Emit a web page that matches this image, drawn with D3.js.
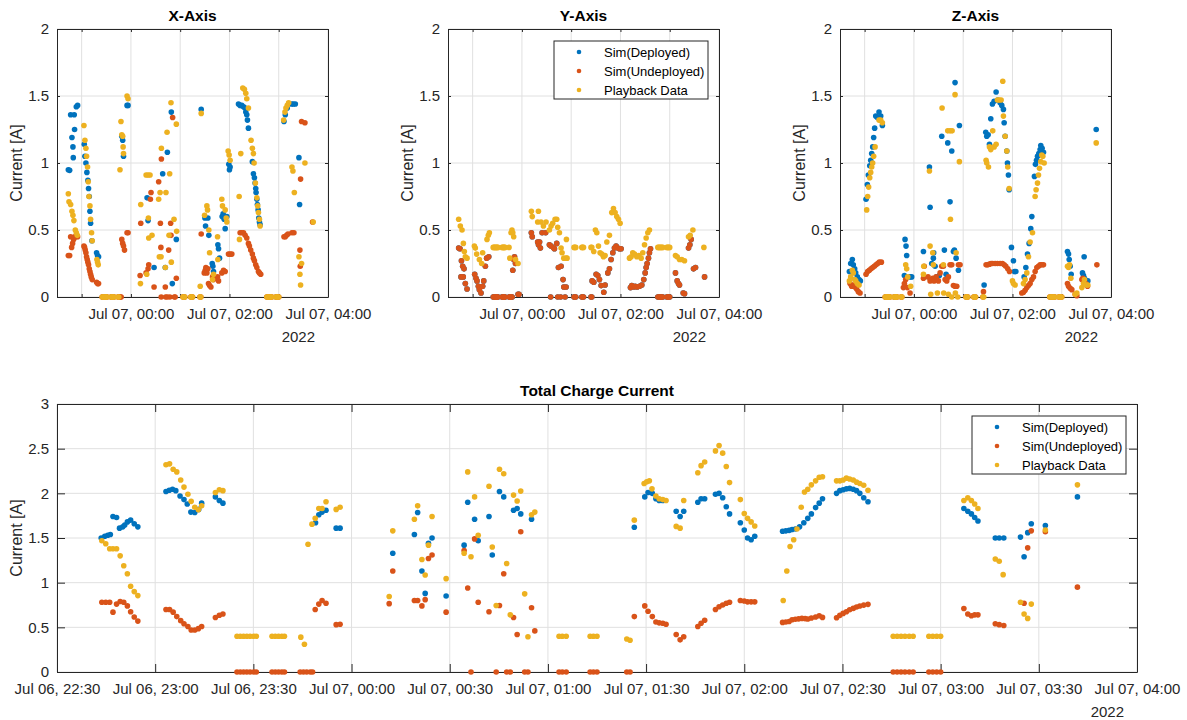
<!DOCTYPE html>
<html>
<head>
<meta charset="utf-8">
<script src="https://cdn.jsdelivr.net/npm/d3@7"></script>
<style>
  body { margin: 0; background: #fff; }
  svg { font-family: "Liberation Sans", Arial, sans-serif; }
</style>
</head>
<body>
<svg id="chart" width="1187" height="720"></svg>
<script>
// series names and MATLAB default colours
const seriesNames = ["Sim(Deployed)", "Sim(Undeployed)", "Playback Data"];
const seriesColors = ["#0072BD", "#D95319", "#EDB120"];

// every sample is [minutes after Jul 06 2022 22:30, current in A]
const xDeployed = [
  [13.8,0.95],[15.4,0.945],[16.6,1.36],[18.2,1.19],[19.4,1.12],[19.8,1.04],[21,1.36],[21.4,1.25],[23.5,1.42],[25.1,1.43],
  [33.2,1.14],[34,1.05],[35.2,1.0],[36.4,0.93],[37.6,0.87],[38.4,0.81],[39.3,0.75],[40.1,0.64],[40.9,0.55],[42.5,0.42],[48.2,0.33],[49.4,0.31],[50.6,0.3],
  [78.9,1.2],[80,1.17],[81,1.05],[85.3,1.43],[86.5,1.43],
  [109.7,0.74],[110.9,0.57],[118.2,0.22],[128.7,0.92],[131.9,0.22],[134.4,1.08],[139.2,1.38],[140.4,0.1],[145.3,0.43],
  [175.6,1.4],[180.1,0.59],[180.9,0.53],[183.7,0.59],[184.9,0.46],[189,0.25],[189.8,0.23],[190.6,0.19],[195.9,0.39],[196.7,0.36],[197.9,0.29],
  [201.1,0.6],[202.3,0.62],[203.6,0.58],[204.8,0.51],[206.8,0.6],[209.2,0.99],[210,0.95],[210.8,0.97],
  [221,1.44],[223,1.43],[225,1.43],[227.1,1.42],[229.1,1.41],[229.9,1.38],[231.1,1.36],[231.9,1.32],[233.1,1.26],[237.9,1.01],[239.2,0.92],
  [240.4,0.89],[241.2,0.85],[242,0.81],[242.4,0.78],[243.3,0.73],[244,0.69],[244.9,0.65],[245.7,0.59],[246.5,0.56],[247.3,0.54],
  [276.4,1.31],[278,1.36],[280.4,1.41],[285.7,1.44],[287.7,1.44],[290.2,1.44],[294.6,1.04],[295.4,0.69]
];
const xUndeployed = [
  [13.8,0.31],[15.4,0.31],[16.6,0.45],[17.8,0.37],[19,0.4],[20.2,0.43],[21.4,0.45],[23.1,0.45],[25.1,0.45],
  [32.8,0.38],[33.6,0.37],[34.4,0.35],[35.2,0.33],[36,0.3],[36.8,0.28],[37.6,0.26],[38.4,0.24],[39.3,0.21],[40.1,0.19],[40.9,0.17],[41.7,0.15],[42.9,0.13],[48.2,0.11],[49.4,0.1],[50.6,0.1],
  [55,0],[56,0],[57,0],[58,0],[59,0],[60.1,0],[60.9,0],[65.7,0],[66.7,0],[67.7,0],[68.7,0],[69.5,0],[74.3,0],[75.3,0],[76.3,0],[77.4,0],[78.1,0],
  [78.9,0.43],[80,0.4],[81,0.38],[82.2,0.35],[85.3,0.48],[86.5,0.48],
  [101.2,0.16],[102,0.55],[108.5,0.18],[110.9,0.21],[111.7,0.24],[113.7,0.73],[114.5,0.78],[118.2,0.075],[123.8,0.86],[125.9,0.55],[126.5,0.37],[127.1,1.03],
  [131.9,0.075],[136,0.35],[138.4,0.55],[138.8,0.46],[140.8,1.34],[145.3,0.14],[126.9,0],[132.3,0],[134.2,0],[137.4,0],[142.9,0],[143.9,0],
  [153.4,0],[154.4,0],[155.6,0],[162.9,0],[163.9,0],[165,0],[174.1,0],[175.1,0],
  [175.6,0.47],[179.3,0.18],[180.5,0.2],[181.3,0.22],[182.5,0.18],[183.7,0.21],[184.5,0.1],[185.8,0.085],[187.4,0.075],[189.4,0.15],[190.6,0.13],
  [195.5,0.15],[196.7,0.12],[200.7,0.18],[202.8,0.2],[204.8,0.19],[208.8,0.32],[210.8,0.32],[212.9,0.32],
  [223,0.48],[225,0.48],[227.1,0.48],[229.1,0.46],[231.1,0.44],[233.1,0.4],[234.3,0.38],[235.9,0.35],[237.9,0.32],[239.2,0.29],[240.4,0.27],
  [242,0.24],[243.3,0.22],[245.3,0.19],[246.5,0.18],[248.1,0.17],
  [255.5,0],[256.7,0],[257.9,0],[259.1,0],[260.4,0],[261.6,0],[266.4,0],[267.6,0],[268.8,0],[270,0],
  [276.4,0.45],[278,0.45],[279.6,0.46],[281.3,0.47],[286.1,0.48],[288.5,0.48],[295.8,0.35],[296.2,0.23],[296.6,0.88],[297.8,1.31],[301.9,1.3],[311.2,0.56]
];
const xPlayback = [
  [13.8,0.77],[14.6,0.71],[16.6,0.69],[18.2,0.64],[19.4,0.61],[20.6,0.57],[22.3,0.5],[23.5,0.48],[24.7,0.46],
  [32.8,1.28],[34,1.17],[35.2,1.11],[36,1.05],[37.2,0.97],[38,0.86],[38.9,0.75],[40.1,0.68],[40.9,0.58],[42.1,0.48],[42.9,0.42],[48.6,0.28],[49.4,0.26],[50.2,0.24],
  [55,0],[56,0],[57,0],[58,0],[59,0],[60.1,0],[60.9,0],[65.7,0],[66.7,0],[67.7,0],[68.7,0],[69.5,0],[74.3,0],[75.3,0],
  [76.7,0.95],[77.9,1.31],[78.9,1.21],[80,1.2],[80.5,1.12],[81,1.07],[85.3,1.5],[86.5,1.48],
  [101.6,0.1],[102,0.69],[108.5,0.91],[109.3,0.17],[110.9,0.91],[111.3,0.59],[111.7,0.44],[113.3,0.91],[115.7,0.46],[123.8,0.73],[124.6,0.3],
  [125.5,0.78],[126.7,0.3],[127.1,1.11],[131.9,0.22],[132.7,0.78],[134,1.23],[136.4,0.46],[137.2,0.92],[138.8,1.45],[139.2,0.26],[142.5,0.58],[145.3,1.29],[145.7,0.49],
  [153.4,0],[154.4,0],[155.6,0],[162.9,0],[163.9,0],[165,0],[174.1,0],[175.1,0],
  [174.4,0.08],[175.6,1.37],[179.7,0.61],[182.5,0.68],[183.3,0.65],[184.9,0.5],[185.8,0.33],[189.4,0.13],[190.6,0.17],[195.5,0.45],[195.9,0.28],
  [200.7,0.73],[201.5,0.68],[204.8,0.65],[206,0.59],[206.8,0.56],[208.4,1.09],[209.6,1.06],[210.8,1.02],
  [221.8,0.75],[222.2,0.43],[223.8,1.07],[226.2,1.56],[228.2,1.55],[229.9,1.52],[231.1,1.48],[233.1,1.41],[236.3,1.17],[237.9,1.11],[239.2,1.07],
  [240,1.0],[241.6,0.85],[243.3,0.74],[244.4,0.68],[245.3,0.63],[246.5,0.58],[247.3,0.53],
  [255.5,0],[256.7,0],[257.9,0],[259.1,0],[260.4,0],[261.6,0],[266.4,0],[267.6,0],[268.8,0],[270,0],
  [276,1.32],[277.6,1.38],[278.8,1.41],[280.4,1.43],[282.1,1.45],[286.1,0.97],[287.3,0.94],[289,0.78],[294.6,0.3],[295.8,0.17],[296.6,0.09],[297.8,0.25],[301.9,1.0],[312,0.56]
];

const yUndeployed = [
  [13,0.365],[14.6,0.36],[15.8,0.15],[16.4,0.27],[17.9,0.23],[18.6,0.15],[19.5,0.21],[21.1,0.1],[23.2,0.06],
  [32.5,0.17],[34.1,0.14],[35.3,0.12],[37,0.08],[38.2,0.055],[40.2,0.03],[42.2,0.08],[43.5,0.12],[45.5,0.23],[47.1,0.29],[49.6,0.3],
  [55,0],[56,0],[57,0],[58,0],[59,0],[60.1,0],[60.9,0],[65.7,0],[66.7,0],[67.7,0],[68.7,0],[69.5,0],[74.3,0],[75.3,0],[76.3,0],[77.4,0],[78.1,0],
  [78.9,0.2],[80,0.28],[81,0.3],[82.2,0.25],[85.3,0.02],[86.5,0.02],
  [101.5,0.48],[102.6,0.45],[109.2,0.41],[110.2,0.39],[111.5,0.41],[112.5,0.365],[114.6,0.48],[118.9,0.48],[123.5,0.39],[125.5,0.38],[128.8,0.365],
  [129.6,0.36],[132.4,0.4],[134.5,0.22],[137.7,0.23],[140.1,0.13],[141,0.075],[143.8,0.075],[125,0],[133.6,0],[137.2,0],[142.6,0],
  [153.4,0],[154.4,0],[155.6,0],[162.9,0],[163.9,0],[165,0],[174.1,0],[175.1,0],
  [175.5,0.12],[177.5,0.11],[180.4,0.17],[182.4,0.16],[184.4,0.13],[186.5,0.085],[189.7,0.035],[191.3,0.09],[194.6,0.18],[196.6,0.21],[198.6,0.28],
  [200.7,0.33],[202.7,0.365],[204.7,0.38],[206.8,0.365],[208.8,0.36],[210.8,0.36],
  [222.2,0.07],[223.8,0.085],[226.3,0.075],[227.9,0.08],[230.3,0.075],[233.2,0.08],[236,0.09],[238.4,0.13],[240.1,0.18],[241.3,0.22],[242.5,0.25],
  [244.1,0.29],[245.3,0.33],[246.6,0.36],
  [255.5,0],[256.7,0],[257.9,0],[259.1,0],[260.4,0],[261.6,0],[266.4,0],[267.6,0],[268.8,0],[270,0],
  [277,0.18],[279.1,0.12],[280.7,0.1],[281.9,0.09],[286.4,0.03],[288,0.025],[292.9,0.365],[294.5,0.39],[296.1,0.43],[299,0.21],[301.4,0.22],[312.4,0.15]
];
// on the Y axis both simulations give the same current, so the orange dots cover the blue ones
const yDeployed = yUndeployed;
const yPlayback = [
  [13,0.58],[15,0.53],[17.1,0.5],[18.7,0.4],[19.9,0.34],[21.1,0.3],[23.2,0.29],
  [32.1,0.38],[33.3,0.365],[34.9,0.32],[38.2,0.28],[41,0.25],[42.2,0.33],[47.5,0.43],[49.1,0.46],[50.4,0.48],
  [55,0.37],[56,0.37],[57,0.37],[58,0.37],[59,0.37],[60.1,0.37],[60.9,0.37],[65.7,0.37],[66.7,0.37],[67.7,0.37],[68.7,0.37],[69.5,0.37],[74.3,0.37],[75.3,0.29],
  [76.7,0.48],[77.9,0.5],[78.9,0.48],[80,0.45],[82.2,0.28],[85.3,0.25],
  [101.5,0.64],[102.6,0.6],[109.2,0.56],[110.1,0.64],[113.3,0.56],[116.2,0.53],[119.4,0.56],[123.5,0.5],[125.5,0.53],[127.5,0.55],[130.4,0.58],
  [132.4,0.58],[133.6,0.52],[135.7,0.48],[137.7,0.365],[138.9,0.33],[141,0.29],[143.8,0.29],[144.2,0.43],[145,0.29],
  [153.4,0.37],[154.4,0.37],[155.6,0.37],[162.9,0.37],[163.9,0.37],[165,0.37],[174.1,0.37],
  [175.1,0.37],[177.5,0.34],[179.5,0.5],[181.2,0.48],[183.2,0.38],[185.2,0.33],[187.3,0.32],[189.3,0.3],[191.3,0.31],[193.4,0.41],[196.6,0.46],
  [199.4,0.63],[201.5,0.66],[203.5,0.63],[205.5,0.6],[207.6,0.58],[209.6,0.55],
  [221,0.29],[223,0.3],[225,0.33],[227.1,0.32],[229.9,0.3],[232.4,0.31],[235.2,0.29],[237.2,0.33],[239.3,0.39],[241.3,0.44],[243.3,0.48],[245.3,0.5],
  [255.5,0.37],[256.7,0.37],[257.9,0.37],[259.1,0.37],[260.4,0.37],[261.6,0.37],[266.4,0.37],[267.6,0.37],[268.8,0.37],[270,0.37],
  [277,0.31],[279.1,0.3],[281.9,0.28],[284.7,0.28],[288,0.27],[292.9,0.45],[294.9,0.46],[298.2,0.5],[311.6,0.37]
];

const zDeployed = [
  [11.4,0.19],[13,0.25],[15,0.28],[16.2,0.24],[17.9,0.21],[19.1,0.18],[21.1,0.15],[23.2,0.13],[24.8,0.12],
  [31.7,0.73],[33.3,0.84],[34.5,0.91],[36.2,0.98],[37.4,1.02],[38.6,1.07],[39.8,1.12],[41,1.19],[42.2,1.26],[43.5,1.35],[45.5,1.34],[47.5,1.38],[49.6,1.35],[51.6,1.28],
  [78.4,0.16],[79.2,0.43],[80.4,0.38],[81.2,0.31],[85.3,0.15],[87.3,0.15],
  [101.6,0.34],[108.9,0.97],[109.7,0.67],[111.7,0.25],[113.7,0.29],[114.1,0.33],[115.8,0.23],[117.8,0.15],[121,0.16],[123.9,1.2],[127.1,0.35],
  [129.2,0.17],[131.2,1.15],[134,0.71],[136.1,1.09],[138.1,0.34],[139.3,0.35],[140.1,1.6],[141.4,0.29],[144.2,0.2],[145.4,1.28],
  [175.5,0.09],
  [177.5,1.23],[178.7,1.2],[180.4,1.21],[182,1.14],[183.6,1.33],[185.6,1.44],[187.7,1.46],[190.1,1.53],[192.1,1.47],[195,1.45],[197,1.43],
  [199,1.4],[199.9,1.3],[201.1,1.2],[203.1,1.09],[203.9,1.0],[205.1,0.91],[206,0.8],[208.8,0.37],[211.2,0.27],[212.4,0.19],[214.1,0.19],
  [224.2,0.15],[226.3,0.22],[228.3,0.32],[230.3,0.4],[232.3,0.51],[233.6,0.6],[236.8,0.9],[238,0.99],[239.3,1.02],[240.5,1.05],[242.1,1.07],
  [243.7,1.1],[244.5,1.13],[246.1,1.11],[247.8,1.08],
  [277,0.34],[278.3,0.32],[279.1,0.28],[280.3,0.23],[281.5,0.17],[295.3,0.18],[296.5,0.16],[297.3,0.3],[297.7,0.14],[299.8,0.12],[301.8,0.12],[312,1.25]
];
const zUndeployed = [
  [12.2,0.1],[14.2,0.08],[16.2,0.09],[18.3,0.075],[20.3,0.06],[22.3,0.04],[24.4,0.03],
  [31.7,0.17],[33.7,0.19],[35.7,0.2],[37.8,0.21],[39.8,0.22],[41.8,0.23],[43.9,0.24],[45.9,0.25],[47.9,0.26],[50.4,0.26],
  [55,0],[56,0],[57,0],[58,0],[59,0],[60.1,0],[60.9,0],[65.7,0],[66.7,0],[67.7,0],[68.7,0],[69.5,0],[74.3,0],[75.3,0],
  [77.2,0.07],[78.4,0.1],[80,0.13],[82.1,0.07],[85.3,0.03],
  [101.6,0.14],[102.6,0.23],[107.2,0.15],[109.7,0.12],[112.9,0.14],[114.5,0.12],[117,0.15],[119.8,0.12],[121.9,0.18],[123.9,0.23],[125.9,0.23],
  [128,0.13],[130,0.12],[132,0.15],[134,0.24],[136.1,0.24],[138.1,0.085],[140.1,0.08],[142.2,0.08],[144.2,0.24],[146.2,0.24],
  [153.4,0],[154.4,0],[155.6,0],[162.9,0],[163.9,0],[165,0],[174.1,0],[174.7,0.04],
  [177.9,0.24],[180,0.24],[182,0.245],[184,0.25],[186,0.25],[188.9,0.25],[191.7,0.25],[195,0.25],[197.8,0.25],[199.9,0.24],[201.9,0.23],[204.3,0.21],[206.4,0.19],
  [221.4,0.03],[223.4,0.035],[225.4,0.05],[227.5,0.07],[229.5,0.085],[231.5,0.1],[233.6,0.13],[235.6,0.15],[237.6,0.19],[239.7,0.22],[241.7,0.23],
  [243.7,0.24],[245.7,0.24],[247.8,0.24],
  [255.5,0],[256.7,0],[257.9,0],[259.1,0],[260.4,0],[261.6,0],[266.4,0],[267.6,0],[268.8,0],[270,0],
  [277,0.1],[278.3,0.08],[280.3,0.065],[282.3,0.055],[286.4,0.02],[288.4,0.01],[294.5,0.13],[295.7,0.14],[297.3,0.12],[299.4,0.1],[301.4,0.08],[312.8,0.24]
];
const zPlayback = [
  [11.4,0.12],[13,0.15],[15,0.2],[16.2,0.18],[17.9,0.13],[19.1,0.12],[21.1,0.1],[23.2,0.09],
  [32.5,0.65],[33.7,0.75],[34.9,0.82],[36.2,0.89],[37.4,0.93],[38.6,0.97],[39.8,1.0],[41,1.05],[42.7,1.12],[47.5,1.32],[49.6,1.32],[51.6,1.3],
  [55,0],[56,0],[57,0],[58,0],[59,0],[60.1,0],[60.9,0],[65.7,0],[66.7,0],[67.7,0],[68.7,0],[69.5,0],[74.3,0],[75.3,0],
  [80,0.24],[81.2,0.21],[82.5,0.15],[86.1,0.08],
  [101.6,0.17],[102,0.23],[108.9,0.94],[109.7,0.38],[110.5,0.02],[112.9,0.33],[113.7,0.24],[118.6,0.03],[124.3,1.41],[125.9,0.24],[126.3,0.03],
  [131.2,1.24],[132,0.02],[134,1.24],[134.5,0.58],[136.1,0],[136.5,1.24],[140.1,1.51],[140.5,0.03],[141.4,0.33],[143.4,0],[145.4,1.01],
  [153.4,0],[154.4,0],[155.6,0],[162.9,0],[163.9,0],[165,0],[174.1,0],[175.1,0],
  [177.9,1.02],[178.7,1.0],[180.8,0.97],[182,1.12],[183.6,1.1],[186,1.24],[187.7,1.12],[190.1,1.14],[191.7,1.47],[193.8,1.47],[196.2,1.47],
  [198.2,1.61],[199,1.35],[201.1,1.2],[203.1,1.09],[204.3,0.97],[206,0.81],[210,0.12],[211.2,0.1],[213.3,0.09],
  [223.4,0.1],[225.4,0.13],[227.5,0.18],[229.5,0.3],[231.5,0.41],[234.4,0.48],[237.6,0.75],[238.8,0.8],[240.5,0.85],[241.7,0.91],[242.9,0.96],
  [244.5,1.01],[245.7,1.06],[247,1.05],[248.6,1.0],
  [255.5,0],[256.7,0],[257.9,0],[259.1,0],[260.4,0],[261.6,0],[266.4,0],[267.6,0],[268.8,0],[270,0],
  [277,0.23],[278.3,0.22],[279.5,0.24],[281.1,0.14],[286.4,0.02],[288.4,0.03],[294.5,0.07],[296.5,0.1],[297.7,0.13],[299.8,0.09],[301.8,0.09],[312,1.15]
];

const totalDeployed = [
  [13.5,1.5],[14.6,1.52],[15.5,1.53],[16.3,1.54],[17.1,1.74],[18.2,1.73],[19.1,1.61],[20.1,1.625],[20.7,1.645],[21.5,1.68],[22.5,1.7],[23.6,1.66],[24.7,1.625],
  [33.3,2.02],[34.3,2.035],[35.3,2.045],[36.3,2.03],[37.6,1.97],[38.8,1.93],[39.8,1.88],[40.9,1.79],[42.1,1.785],[43.3,1.82],[44.2,1.89],
  [48.4,1.96],[49.6,1.92],[50.7,1.89],
  [79,1.67],[80,1.76],[81,1.79],[82.2,1.81],[85.3,1.61],[86.5,1.61],
  [102.6,1.33],
  [109.2,1.54],[110.2,1.785],[111.5,1.13],[112.5,0.88],[113.5,1.44],[114.6,1.5],[118.9,0.85],
  [124.4,1.42],[125.5,1.9],[127.6,1.71],[128.7,1.47],[132,1.74],[133,1.31],[135.2,2.02],[136.5,1.96],[139.5,1.81],[140.6,1.83],[141.7,1.77],[145,1.71],
  [176.4,1.62],[179.6,1.96],[180.6,2.01],[181.9,2.0],[183,1.94],[184,1.92],[185.1,1.92],[189.2,1.8],[190.4,1.74],[191.5,1.8],[195.8,1.9],[196.8,1.94],
  [197.9,1.94],[201.2,1.99],[202.3,2.0],[203.4,1.95],[204.5,1.85],[205.5,1.77],[208.8,1.67],[210,1.59],[211,1.5],[212.1,1.48],[213.2,1.52],
  [221.7,1.575],[222.7,1.58],[223.7,1.585],[224.6,1.595],[225.6,1.6],[226.9,1.625],[228.2,1.67],[229.4,1.72],[230.5,1.77],[231.8,1.84],[232.9,1.89],
  [233.9,1.94],[238.2,2.0],[239.2,2.03],[240.2,2.04],[241.2,2.05],[242.2,2.055],[243.3,2.045],[244.3,2.03],[245.3,2.0],[246.5,1.95],[247.8,1.905],
  [277.1,1.83],[278.3,1.8],[279.4,1.77],[280.4,1.73],[281.4,1.69],[286.7,1.5],[287.9,1.5],[289.3,1.5],
  [294.4,1.51],[295.5,1.29],[296.6,1.56],[297.7,1.66],[302,1.64],[311.8,1.96]
];
const totalUndeployed = [
  [13.7,0.78],[14.9,0.78],[16.1,0.78],[17.1,0.67],[18.2,0.76],[19.3,0.79],[20.4,0.78],[21.5,0.74],[22.5,0.675],[23.6,0.615],[24.7,0.57],
  [33.3,0.7],[34.4,0.7],[35.5,0.67],[36.6,0.62],[37.8,0.575],[38.8,0.54],[40,0.51],[41,0.47],[42.1,0.47],[43.2,0.485],[44.2,0.51],
  [48.4,0.61],[49.6,0.635],[50.7,0.65],
  [55,0],[56,0],[57,0],[58,0],[59,0],[60.1,0],[60.9,0],[65.7,0],[66.7,0],[67.7,0],[68.7,0],[69.5,0],[74.3,0],[75.3,0],[76.3,0],[77.4,0],[78.1,0],
  [78.9,0.7],[80,0.76],[81,0.8],[82.2,0.77],[85.3,0.53],[86.5,0.535],
  [101.5,0.765],[102.6,1.13],
  [109.2,0.8],[110.2,0.8],[111.5,0.74],[112.5,0.81],[113.5,1.27],[114.6,1.31],[118.9,0.67],
  [124.4,1.36],[125.5,0.94],[126.5,0],[127.6,1.49],[128.7,0.78],[132,0.675],[134.2,0],[135.2,0.745],[136.5,1.1],[137.4,0],[138.5,0],[139.5,0.61],
  [140.6,0.42],[141.7,1.57],[142.9,0],[143.9,0],[145,0.72],[146,0.46],
  [153.4,0],[154.4,0],[155.6,0],[162.9,0],[163.9,0],[165,0],[174.1,0],[175.1,0],
  [176.4,0.62],[179.6,0.74],[180.6,0.68],[181.9,0.62],[183,0.56],[184,0.55],[185.1,0.545],[186.1,0.535],[189.2,0.42],[190.4,0.36],[191.5,0.395],
  [195.8,0.51],[196.8,0.545],[197.9,0.58],[201.2,0.7],[202.3,0.73],[203.4,0.75],[204.5,0.77],[205.5,0.78],[208.8,0.8],[210,0.795],[211,0.785],[212.1,0.785],[213.2,0.785],
  [221.7,0.555],[222.7,0.56],[223.7,0.565],[224.6,0.585],[225.6,0.59],[226.6,0.595],[227.6,0.6],[228.6,0.597],[229.4,0.593],[230.5,0.604],[231.8,0.615],
  [232.9,0.63],[233.9,0.611],[238.2,0.608],[239.2,0.634],[240.2,0.656],[241.2,0.675],[242.2,0.697],[243.3,0.712],[244.3,0.727],[245.3,0.738],[246.5,0.749],[247.8,0.757],
  [255.5,0],[256.7,0],[257.9,0],[259.1,0],[260.4,0],[261.6,0],[266.4,0],[267.6,0],[268.8,0],[270,0],
  [277.1,0.71],[278.3,0.65],[279.4,0.63],[280.4,0.64],[281.4,0.64],[286.7,0.54],[287.9,0.53],[289.3,0.52],
  [295.5,0.77],[296.6,1.39],[297.7,1.58],[302,1.57],[311.8,0.95]
];
const totalPlayback = [
  [13.7,1.47],[14.9,1.435],[16.1,1.38],[17.1,1.38],[18.2,1.38],[19.3,1.3],[20.4,1.19],[21.5,1.1],[22.5,0.96],[23.6,0.9],[24.7,0.855],
  [33.3,2.32],[34.4,2.33],[35.5,2.27],[36.6,2.24],[37.8,2.15],[38.8,2.07],[40,1.99],[41,1.91],[42.1,1.845],[43.2,1.815],[44.2,1.86],
  [48.4,2.01],[49.6,2.04],[50.7,2.03],
  [55,0.4],[56,0.4],[57,0.4],[58,0.4],[59,0.4],[60.1,0.4],[60.9,0.4],[65.7,0.4],[66.7,0.4],[67.7,0.4],[68.7,0.4],[69.5,0.4],[74.5,0.39],[75.6,0.31],
  [76.7,1.43],[77.9,1.655],[78.9,1.72],[80,1.83],[81,1.83],[82.2,1.905],[85.3,1.82],[86.5,1.845],
  [101.5,0.845],[102.6,1.58],
  [109.2,1.71],[110.2,1.86],[111.5,1.26],[112.5,1.085],[113.5,1.42],[114.6,1.74],[118.9,1.045],
  [124.4,1.33],[125.5,2.24],[126.5,1.29],[127.6,1.96],[128.7,1.53],[132,2.08],[133,1.4],[134.2,0.745],[135.2,2.27],[136.5,2.22],[137.4,1.215],
  [138.5,0.64],[139.5,1.98],[140.6,1.915],[141.7,2.025],[142.9,0.875],[143.9,0.395],[145,1.76],[146,1.79],
  [153.4,0.4],[154.4,0.4],[155.6,0.4],[162.9,0.4],[163.9,0.4],[165,0.4],[174.1,0.37],[175.1,0.355],
  [176.4,1.7],[179.4,2.11],[180.2,2.13],[181,2.14],[181.8,2.05],[183,1.97],[184,1.94],[185.1,1.93],[186.1,1.92],[189.2,1.63],[190.4,1.61],[191.5,1.92],
  [195.8,2.23],[196.8,2.31],[197.9,2.35],[201.2,2.475],[202.3,2.535],[203.4,2.45],[204.5,2.3],[205.5,2.12],[208.8,1.93],[210,1.775],[211,1.72],[212.1,1.68],[213.2,1.635],
  [221.9,0.8],[223,1.13],[224,1.405],[225.1,1.48],[226.1,1.6],[227.4,1.845],[228.4,2.015],[229.4,2.045],[230.5,2.095],[231.8,2.14],[232.9,2.18],
  [233.9,2.185],[238.2,2.14],[239.2,2.14],[240.2,2.15],[241.2,2.17],[242.2,2.16],[243.3,2.15],[244.3,2.125],[245.3,2.11],[246.5,2.09],[247.8,2.035],
  [255.5,0.4],[256.7,0.4],[257.9,0.4],[259.1,0.4],[260.4,0.4],[261.6,0.4],[266.4,0.4],[267.6,0.4],[268.8,0.4],[270,0.4],
  [277.1,1.92],[278.3,1.95],[279.4,1.92],[280.4,1.88],[281.4,1.83],[286.7,1.265],[287.9,1.24],[289.1,1.09],
  [294.4,0.78],[295.5,0.65],[296.6,0.6],[297.7,0.76],[302,1.59],[311.8,2.095]
];

// time window shown on every axis
const startTime = new Date(2022, 6, 6, 22, 30);
const endTime = new Date(2022, 6, 7, 4, 0);
const toDate = m => new Date(startTime.getTime() + m * 60000);

const svg = d3.select("#chart");
const fmtTime = d3.timeFormat("%b %d, %H:%M");
const axisColor = "#262626";

function drawPanel(p) {
  const g = svg.append("g");
  const x = d3.scaleTime().domain([startTime, endTime]).range([p.left, p.left + p.width]);
  const y = d3.scaleLinear().domain([0, p.yMax]).range([p.top + p.height, p.top]);
  const xTicks = x.ticks(p.tickInterval);
  const yTicks = d3.range(0, p.yMax + 0.001, 0.5);

  // grid
  g.append("g").selectAll("line").data(xTicks).join("line")
    .attr("x1", d => x(d)).attr("x2", d => x(d))
    .attr("y1", p.top).attr("y2", p.top + p.height)
    .attr("stroke", "#e0e0e0");
  g.append("g").selectAll("line").data(yTicks).join("line")
    .attr("x1", p.left).attr("x2", p.left + p.width)
    .attr("y1", d => y(d)).attr("y2", d => y(d))
    .attr("stroke", "#e0e0e0");

  // axes with ticks on all four sides, pointing inward
  const styleAxis = sel => {
    sel.select(".domain").attr("stroke", axisColor);
    sel.selectAll(".tick line").attr("stroke", axisColor);
    sel.selectAll("text").attr("fill", axisColor).style("font-size", "15px");
  };
  g.append("g").attr("transform", `translate(0,${p.top + p.height})`)
    .call(d3.axisBottom(x).tickValues(xTicks).tickSize(-p.tickLen).tickSizeOuter(0).tickPadding(11)
      .tickFormat(p.labelFilter ? d => (p.labelFilter(d) ? fmtTime(d) : "") : fmtTime))
    .call(styleAxis);
  g.append("g").attr("transform", `translate(0,${p.top})`)
    .call(d3.axisTop(x).tickValues(xTicks).tickSize(-p.tickLen).tickSizeOuter(0).tickFormat(""))
    .call(styleAxis);
  g.append("g").attr("transform", `translate(${p.left},0)`)
    .call(d3.axisLeft(y).tickValues(yTicks).tickSize(-p.tickLen).tickSizeOuter(0).tickPadding(8).tickFormat(d => d))
    .call(styleAxis);
  g.append("g").attr("transform", `translate(${p.left + p.width},0)`)
    .call(d3.axisRight(y).tickValues(yTicks).tickSize(-p.tickLen).tickSizeOuter(0).tickFormat(""))
    .call(styleAxis);

  // year under the last tick label
  g.append("text")
    .attr("x", p.left + p.width - 13).attr("y", p.top + p.height + 44.5)
    .attr("text-anchor", "end").attr("fill", axisColor).style("font-size", "15px")
    .text(d3.timeFormat("%Y")(endTime));

  // titles
  g.append("text")
    .attr("x", p.left + p.width / 2).attr("y", p.top - 8.5)
    .attr("text-anchor", "middle").style("font-size", "15.5px").style("font-weight", "bold")
    .attr("fill", "#000").text(p.title);
  g.append("text")
    .attr("transform", `translate(${p.left - 35},${p.top + p.height / 2}) rotate(-90)`)
    .attr("text-anchor", "middle").style("font-size", "16px").attr("fill", axisColor)
    .text("Current [A]");

  // points: deployed, undeployed, playback
  p.series.forEach((data, i) => {
    g.append("g").selectAll("circle").data(data).join("circle")
      .attr("cx", d => x(toDate(d[0])))
      .attr("cy", d => y(d[1]))
      .attr("r", 2.8)
      .attr("fill", seriesColors[i]);
  });

  // legend
  if (p.legend) {
    const lw = 154, lh = 58;
    const lx = p.left + p.width - 11 - lw, ly = p.top + 12;
    const lg = g.append("g").attr("transform", `translate(${lx},${ly})`);
    lg.append("rect").attr("width", lw).attr("height", lh)
      .attr("fill", "#fff").attr("stroke", axisColor);
    seriesNames.forEach((name, i) => {
      const cy = 11 + i * 19;
      lg.append("circle").attr("cx", 25).attr("cy", cy).attr("r", 2.3).attr("fill", seriesColors[i]);
      lg.append("text").attr("x", 50).attr("y", cy).attr("dy", "0.36em")
        .style("font-size", "13px").attr("fill", "#000").text(name);
    });
  }
}

const hourly = d3.timeHour.every(1);
const evenHours = d => d.getHours() % 2 === 0;

drawPanel({ left: 57, top: 29, width: 271, height: 268, yMax: 2, tickLen: 3, tickInterval: hourly,
  labelFilter: evenHours, title: "X-Axis", series: [xDeployed, xUndeployed, xPlayback] });
drawPanel({ left: 448, top: 29, width: 271, height: 268, yMax: 2, tickLen: 3, tickInterval: hourly,
  labelFilter: evenHours, title: "Y-Axis", series: [yDeployed, yUndeployed, yPlayback], legend: true });
drawPanel({ left: 840, top: 29, width: 271, height: 268, yMax: 2, tickLen: 3, tickInterval: hourly,
  labelFilter: evenHours, title: "Z-Axis", series: [zDeployed, zUndeployed, zPlayback] });
drawPanel({ left: 57, top: 404, width: 1080, height: 268, yMax: 3, tickLen: 8, tickInterval: d3.timeMinute.every(30),
  title: "Total Charge Current", series: [totalDeployed, totalUndeployed, totalPlayback], legend: true });
</script>
</body>
</html>
